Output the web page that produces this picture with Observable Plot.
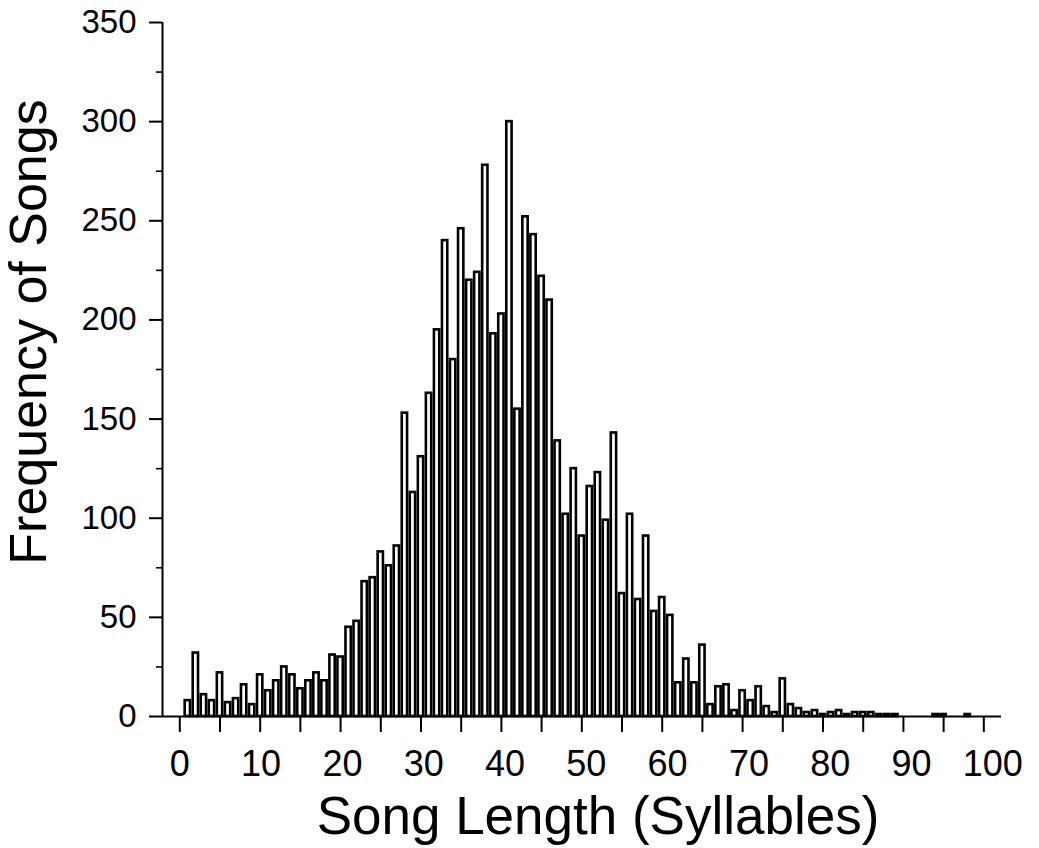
<!DOCTYPE html>
<html>
<head>
<meta charset="utf-8">
<script src="https://cdn.jsdelivr.net/npm/d3@7"></script>
<script src="https://cdn.jsdelivr.net/npm/@observablehq/plot@0.6"></script>
<style>
  html, body { margin: 0; padding: 0; background: #fff; }
  #chart svg { display: block; }
</style>
</head>
<body>
<div id="chart"></div>
<script>
// Song length (syllables) categories
const syllables = [
  1, 2, 3, 4, 5, 6, 7, 8, 9, 10,
  11, 12, 13, 14, 15, 16, 17, 18, 19, 20,
  21, 22, 23, 24, 25, 26, 27, 28, 29, 30,
  31, 32, 33, 34, 35, 36, 37, 38, 39, 40,
  41, 42, 43, 44, 45, 46, 47, 48, 49, 50,
  51, 52, 53, 54, 55, 56, 57, 58, 59, 60,
  61, 62, 63, 64, 65, 66, 67, 68, 69, 70,
  71, 72, 73, 74, 75, 76, 77, 78, 79, 80,
  81, 82, 83, 84, 85, 86, 87, 88, 89, 90,
  91, 92, 93, 94, 95, 96, 97, 98, 99, 100
];
// Frequency of songs for each length
const counts = [
  8, 32, 11, 8, 22, 7, 9, 16, 6, 21,
  13, 18, 25, 21, 14, 18, 22, 18, 31, 30,
  45, 48, 68, 70, 83, 76, 86, 153, 113, 131,
  163, 195, 240, 180, 246, 220, 224, 278, 193, 203,
  300, 155, 252, 243, 222, 210, 139, 102, 125, 91,
  116, 123, 99, 143, 62, 102, 59, 91, 53, 60,
  51, 17, 29, 17, 36, 6, 15, 16, 3, 13,
  8, 15, 5, 2, 19, 6, 4, 2, 3, 1,
  2, 3, 1, 2, 2, 2, 1, 1, 1, 0,
  0, 0, 0, 1, 1, 0, 0, 1, 0, 0
];
const yMajorTicks = [0, 50, 100, 150, 200, 250, 300, 350];
const yMinorTicks = [25, 75, 125, 175, 225, 275, 325];
const xTicks = [0, 5, 10, 15, 20, 25, 30, 35, 40, 45, 50, 55, 60, 65, 70, 75, 80, 85, 90, 95, 100];
const xLabels = [0, 10, 20, 30, 40, 50, 60, 70, 80, 90, 100];
const xTitle = "Song Length (Syllables)";
const yTitle = "Frequency of Songs";

const data = syllables.map((s, i) => ({s, n: counts[i]})).filter(d => d.n > 0);

const font = "'Liberation Sans', Arial, Helvetica, sans-serif";
const W = 1039, H = 848;
const mTop = 22, mBottom = H - 716, mLeft = 162, mRight = W - 1001;
// the printed tick labels are spread slightly wider than the tick marks
const labelSpread = 1.0112;

const chart = Plot.plot({
  width: W,
  height: H,
  marginTop: mTop,
  marginBottom: mBottom,
  marginLeft: mLeft,
  marginRight: mRight,
  style: {background: "#fff", fontFamily: font, color: "#000", overflow: "visible"},
  x: {type: "linear", domain: [-2.15, 102.2]},
  y: {type: "linear", domain: [0, 350]},
  marks: [
    Plot.rectY(data, {
      x1: d => d.s - 0.33,
      x2: d => d.s + 0.33,
      y: "n",
      fill: "white",
      stroke: "black",
      strokeWidth: 2.6
    }),
    // axis lines
    Plot.ruleY([0], {stroke: "black", strokeWidth: 2}),
    Plot.ruleX([-2.15], {stroke: "black", strokeWidth: 2}),
    // y axis
    Plot.axisY({ticks: yMajorTicks, tickSize: 13, tickPadding: 13, fontSize: 33, strokeWidth: 2, label: null, tickFormat: d => String(d)}),
    Plot.axisY({ticks: yMinorTicks, tickSize: 6, strokeWidth: 1.6, text: null, label: null}),
    // x axis
    Plot.axisX({ticks: xTicks, tickSize: 16, strokeWidth: 2, text: null, label: null}),
    Plot.text(xLabels, {x: d => d * labelSpread, y: 0, text: d => String(d), lineAnchor: "top", textAnchor: "middle", dy: 34, fontSize: 36, fill: "black"}),
    // titles
    Plot.text([xTitle], {frameAnchor: "bottom", text: d => d, lineAnchor: "bottom", textAnchor: "middle", dy: 117, dx: 16, fontSize: 53, fill: "black"}),
    Plot.text([yTitle], {frameAnchor: "left", text: d => d, rotate: -90, lineAnchor: "bottom", textAnchor: "middle", dx: -117, dy: -37.5, fontSize: 52, fill: "black"})
  ]
});

document.getElementById("chart").appendChild(chart);
</script>
</body>
</html>
